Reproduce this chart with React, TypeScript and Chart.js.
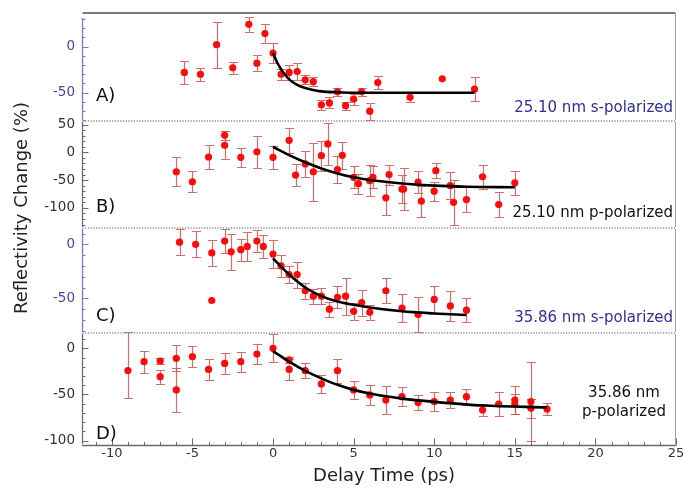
import React, { useEffect, useRef } from "react";
import { Chart, registerables } from "chart.js";

Chart.register(...registerables);

// ---------- data ----------
// Panel A: 25.10 nm s-polarized
const aX = [-5.5, -4.5, -3.5, -2.5, -1.5, -1, -0.5, 0, 0.5, 1, 1.5, 2, 2.5, 3, 3.5, 4, 4.5, 5, 5.5, 6, 6.5, 8.5, 10.5, 12.5];
const aY = [-28, -30, 2, -23, 24, -18, 14, -7, -30, -28, -27, -36, -38, -63, -61, -49, -64, -57, -49, -70, -39, -55, -35, -46];
const aErr: (number | number[])[] = [12.5, 7, 25, 6.5, 8, 8.5, 10.5, 10.5, 6, 8, 9, 5, 5, 5.5, 6, 4.5, 4.5, 6, 4.5, 9, 7, 5, 0, 12.5];
const aFitX = [0, 0.25, 0.5, 0.75, 1, 1.5, 2, 2.5, 3, 4, 5, 6, 8, 12.5];
const aFitY = [-7, -17, -24.5, -30.5, -35.5, -41.5, -45, -47, -48.5, -49.5, -50, -50, -50, -50];

// Panel B: 25.10 nm p-polarized
const bX = [-6, -5, -4, -3, -3, -2, -1, 0, 1, 1.4, 2, 2.5, 3, 3.4, 4, 4.3, 5, 5.3, 6, 6.2, 7, 7.2, 8, 8.1, 9, 9.2, 10, 10.1, 11, 11.2, 12, 13, 14, 15];
const bY = [-35, -53, -8.5, 30.5, 12.6, -9, 1, -9, 21.6, -41, -21, -35, -6, 15, -31, -5.5, -45, -56.5, -51, -45, -82, -40, -66, -66, -53.5, -88, -70, -33, -60, -90, -85, -44, -94, -55];
const bErr: (number | number[])[] = [26, 19, 21, 8, 25, 17, 29, 21, 22, 20, 23, 52, 27, 37, 25, 24, 20, 18, 28.5, 20, 31, 18, 25, 37, 20, 28, 17, 13, 24, 41, 22, 22, 22, 21];
const bFitX = [0, 1, 2, 3, 4, 5, 6, 8, 10, 12, 15];
const bFitY = [10, -5, -18, -29, -38, -45, -50, -56, -60, -62, -63];

// Panel C: 35.86 nm s-polarized
const cX = [-5.8, -4.8, -3.8, -3.8, -3, -2.6, -2, -1.6, -1, -0.6, 0, 0.5, 1, 1.5, 2, 2.5, 3, 3.5, 4, 4.5, 5, 5.5, 6, 7, 8, 9, 10, 11, 12];
const cY = [2, 0, -8, -52, 3, -7, -5, -2, 3, -2, -9, -20, -28, -28, -43, -48, -48, -60, -49, -48, -62, -54, -63, -43, -59, -65, -51, -57, -61];
const cErr: (number | number[])[] = [12, 12, 12, 0, 11, 17, 10, 13, 10, 10.5, 13, 10, 7.5, 12, 7.5, 7, 7.5, 7, 10, 17, 8, 12, 7, 11.5, 13, 16, 12.5, 14, 11];
const cFitX = [0, 1, 2, 3, 4, 5, 6, 8, 10, 12];
const cFitY = [-13, -28, -40, -48, -53, -56, -58.5, -62, -64, -65.5];

// Panel D: 35.86 nm p-polarized
const dX = [-9, -8, -7, -7, -6, -6, -5, -4, -3, -2, -1, 0, 1, 1, 2, 3, 4, 5, 6, 7, 8, 9, 10, 11, 12, 13, 14, 15, 15, 16, 16, 17];
const dY = [-24, -14.5, -13.7, -30.7, -10.8, -45, -9, -22.8, -16.3, -14.5, -6.2, 0, -12.6, -22.8, -24.2, -38.6, -24.2, -45, -50.5, -56, -52.4, -58.8, -57.7, -56, -52.4, -66.8, -60.3, -56, -60.3, -57.7, -65, -65.7];
const dErr: (number | number[])[] = [[30, 42], 12, 3, 7.5, 14, 23.5, 11, 11, 11.5, 11, 11, 15, 3, 11.5, 8, 10, 13, 10, 10.5, 15, 10.5, 8, 10, 9, 8.5, 7, 13, 15, 11, 43, 10, 7];
const dFitX = [0, 1, 2, 3, 4, 5, 6, 7, 8, 10, 13, 17];
const dFitY = [-3, -14.5, -24.5, -32.5, -39.5, -45, -49, -52, -54.5, -58, -62, -64];

// tick labels
const xTicks = [-10, -5, 0, 5, 10, 15, 20, 25];
const aTicks = [-50, 0];
const bTicks = [-100, -50, 0, 50];
const cTicks = [-50, 0];
const dTicks = [-100, -50, 0];

const xTitle = "Delay Time (ps)";
const yTitle = "Reflectivity Change (%)";

// ---------- styling / layout ----------
const FONT = "'DejaVu Sans', sans-serif";
const BLUE_TXT = "#2f2f98";
const BLUE_TICK = "#4646aa";
const BLUE_AX = "#7a7ac6";
const GRAY_AX = "#6a6a6a";
const ERR_COLOR = "rgba(205,85,85,0.85)";
const CAP = 4.5;

type Panel = {
  id: string;
  xs: number[];
  ys: number[];
  errs: (number | number[])[];
  fx: number[];
  fy: number[];
  min: number;
  max: number;
  weight: number;
  order: number;
  ticks: number[];
  blue: boolean;
  letter: string;
  letterAt: number;
  note: string[];
  noteAt: number[];
  noteCentered: boolean;
};

const panels: Panel[] = [
  { id: "yA", xs: aX, ys: aY, errs: aErr, fx: aFitX, fy: aFitY, min: -80.6, max: 36.3, weight: 108, order: 4, ticks: aTicks, blue: true, letter: "A)", letterAt: -54, note: ["25.10 nm s-polarized"], noteAt: [-66.5], noteCentered: false },
  { id: "yB", xs: bX, ys: bY, errs: bErr, fx: bFitX, fy: bFitY, min: -136.2, max: 56.3, weight: 107, order: 3, ticks: bTicks, blue: false, letter: "B)", letterAt: -99, note: ["25.10 nm p-polarized"], noteAt: [-109], noteCentered: false },
  { id: "yC", xs: cX, ys: cY, errs: cErr, fx: cFitX, fy: cFitY, min: -82.1, max: 15.1, weight: 105, order: 2, ticks: cTicks, blue: true, letter: "C)", letterAt: -67, note: ["35.86 nm s-polarized"], noteAt: [-68], noteCentered: false },
  { id: "yD", xs: dX, ys: dY, errs: dErr, fx: dFitX, fy: dFitY, min: -104.7, max: 16.6, weight: 112, order: 1, ticks: dTicks, blue: false, letter: "D)", letterAt: -93, note: ["35.86 nm", "p-polarized"], noteAt: [-48.4, -69], noteCentered: true },
];

function line(ctx: CanvasRenderingContext2D, x1: number, y1: number, x2: number, y2: number) {
  ctx.beginPath();
  ctx.moveTo(x1, y1);
  ctx.lineTo(x2, y2);
  ctx.stroke();
}

const decorPlugin = {
  id: "decor",
  beforeDatasetsDraw(chart: any) {
    const ctx: CanvasRenderingContext2D = chart.ctx;
    const xs = chart.scales.x;
    ctx.save();
    ctx.strokeStyle = ERR_COLOR;
    ctx.lineWidth = 1.2;
    panels.forEach((p) => {
      const ys = chart.scales[p.id];
      p.xs.forEach((xv, i) => {
        const e = p.errs[i];
        const lo = Array.isArray(e) ? e[0] : e;
        const hi = Array.isArray(e) ? e[1] : e;
        if (!lo && !hi) return;
        const px = Math.round(xs.getPixelForValue(xv)) + 0.5;
        const y1 = Math.round(ys.getPixelForValue(p.ys[i] - lo)) + 0.5;
        const y2 = Math.round(ys.getPixelForValue(p.ys[i] + hi)) + 0.5;
        ctx.beginPath();
        ctx.moveTo(px, y1);
        ctx.lineTo(px, y2);
        ctx.moveTo(px - CAP, y1);
        ctx.lineTo(px + CAP, y1);
        ctx.moveTo(px - CAP, y2);
        ctx.lineTo(px + CAP, y2);
        ctx.stroke();
      });
    });
    ctx.restore();
  },
  afterDraw(chart: any) {
    const ctx: CanvasRenderingContext2D = chart.ctx;
    const ca = chart.chartArea;
    const xs = chart.scales.x;
    const L = Math.round(ca.left) + 0.5;
    const R = Math.round(ca.right) - 0.5;
    ctx.save();

    // dotted separators between panels
    ctx.strokeStyle = "#8c8c9c";
    ctx.lineWidth = 1.5;
    ctx.setLineDash([1.2, 1.5]);
    panels.slice(0, 3).forEach((p) => {
      const s = chart.scales[p.id];
      const y = Math.round(s.bottom);
      line(ctx, L, y, R, y);
    });
    ctx.setLineDash([]);

    // top border
    ctx.strokeStyle = "#7a7a7a";
    ctx.lineWidth = 1.8;
    line(ctx, L, Math.round(ca.top), R, Math.round(ca.top));

    // left / right axes with inside ticks
    panels.forEach((p) => {
      const s = chart.scales[p.id];
      const col = p.blue ? BLUE_AX : GRAY_AX;
      ctx.strokeStyle = col;
      ctx.lineWidth = 1.3;
      line(ctx, L, s.top + (p.order === 4 ? 5 : 1), L, s.bottom - 1);
      ctx.strokeStyle = p.blue ? "#9a9ad4" : "#a0a0a0";
      ctx.lineWidth = 1;
      line(ctx, R, s.top + 1, R, s.bottom - 1);
      ctx.strokeStyle = col;
      ctx.lineWidth = 1;
      for (let v = Math.ceil(s.min / 10) * 10; v <= s.max; v += 10) {
        const y = Math.round(s.getPixelForValue(v)) + 0.5;
        const len = p.ticks.includes(v) ? 6 : 3;
        line(ctx, L, y, L + len, y);
      }
    });

    // bottom axis
    const B = Math.round(ca.bottom) + 0.5;
    ctx.strokeStyle = GRAY_AX;
    ctx.lineWidth = 1.5;
    line(ctx, ca.left, B, ca.right, B);
    ctx.lineWidth = 1;
    for (let v = Math.ceil(xs.min); v <= xs.max; v += 1) {
      const x = Math.round(xs.getPixelForValue(v)) + 0.5;
      const len = v % 5 === 0 ? 7 : 3.5;
      line(ctx, x, B, x, B - len);
    }

    // x tick labels
    ctx.fillStyle = "#333";
    ctx.font = `13px ${FONT}`;
    ctx.textAlign = "center";
    ctx.textBaseline = "middle";
    xTicks.forEach((v) => {
      ctx.fillText(String(v), xs.getPixelForValue(v), ca.bottom + 9);
    });

    // x title
    ctx.fillStyle = "#222";
    ctx.font = `18px ${FONT}`;
    ctx.fillText(xTitle, (ca.left + ca.right) / 2 + 5, ca.bottom + 31);

    // y title
    ctx.save();
    ctx.translate(22, 208);
    ctx.rotate(-Math.PI / 2);
    ctx.fillStyle = "#222";
    ctx.font = `18px ${FONT}`;
    ctx.fillText(yTitle, 0, 0);
    ctx.restore();

    // panel letters and notes
    panels.forEach((p) => {
      const s = chart.scales[p.id];
      ctx.fillStyle = "#111";
      ctx.font = `18px ${FONT}`;
      ctx.textAlign = "left";
      ctx.fillText(p.letter, ca.left + 14, s.getPixelForValue(p.letterAt));
      ctx.fillStyle = p.blue ? BLUE_TXT : "#111";
      ctx.font = `15px ${FONT}`;
      p.note.forEach((t, k) => {
        const y = s.getPixelForValue(p.noteAt[k]);
        if (p.noteCentered) {
          ctx.textAlign = "center";
          ctx.fillText(t, ca.right - 52, y);
        } else {
          ctx.textAlign = "right";
          ctx.fillText(t, ca.right - 3, y);
        }
      });
    });

    ctx.restore();
  },
};

function buildConfig(): any {
  const datasets: any[] = [];
  panels.forEach((p) => {
    datasets.push({
      label: p.id + " fit",
      yAxisID: p.id,
      data: p.fx.map((x, i) => ({ x, y: p.fy[i] })),
      borderColor: "#000",
      borderWidth: 2.6,
      pointRadius: 0,
      showLine: true,
      fill: false,
      cubicInterpolationMode: "monotone",
      order: 0,
    });
    datasets.push({
      label: p.id + " data",
      yAxisID: p.id,
      data: p.xs.map((x, i) => ({ x, y: p.ys[i] })),
      showLine: false,
      pointRadius: 3.6,
      pointBackgroundColor: "#ff0a0a",
      pointBorderWidth: 0,
      borderColor: "#ff0a0a",
      order: 1,
    });
  });

  const scales: any = {
    x: {
      type: "linear",
      position: "bottom",
      min: -11.85,
      max: 25,
      grid: { display: false, drawTicks: false },
      border: { display: false },
      ticks: { display: false },
      afterFit: (s: any) => {
        s.height = 48;
        s.paddingLeft = 0;
        s.paddingRight = 0;
      },
    },
  };
  panels.forEach((p) => {
    scales[p.id] = {
      type: "linear",
      position: "left",
      stack: "panels",
      stackWeight: p.weight,
      weight: p.order,
      min: p.min,
      max: p.max,
      grid: { display: false, drawTicks: false },
      border: { display: false },
      ticks: {
        color: p.blue ? BLUE_TICK : "#333",
        font: { family: FONT, size: 13.5 },
        padding: 7,
      },
      afterBuildTicks: (s: any) => {
        s.ticks = p.ticks.map((v) => ({ value: v }));
      },
      afterFit: (s: any) => {
        s.width = 82;
        s.paddingTop = 0;
        s.paddingBottom = 0;
      },
    };
  });

  return {
    type: "line",
    data: { datasets },
    options: {
      responsive: false,
      maintainAspectRatio: false,
      devicePixelRatio: 1,
      animation: false,
      parsing: true,
      layout: { padding: { top: 13, left: 0, right: 7, bottom: 0 } },
      plugins: { legend: { display: false }, tooltip: { enabled: false } },
      scales,
    },
    plugins: [decorPlugin],
  };
}

export default function App() {
  const ref = useRef<HTMLCanvasElement>(null);
  useEffect(() => {
    const canvas = ref.current;
    if (!canvas) return;
    const chart = new Chart(canvas, buildConfig());
    return () => chart.destroy();
  }, []);
  return (
    <div style={{ position: "fixed", left: 0, top: 0, width: 683, height: 493, background: "#fff" }}>
      <canvas ref={ref} width={683} height={493} style={{ display: "block", width: 683, height: 493 }} />
    </div>
  );
}
